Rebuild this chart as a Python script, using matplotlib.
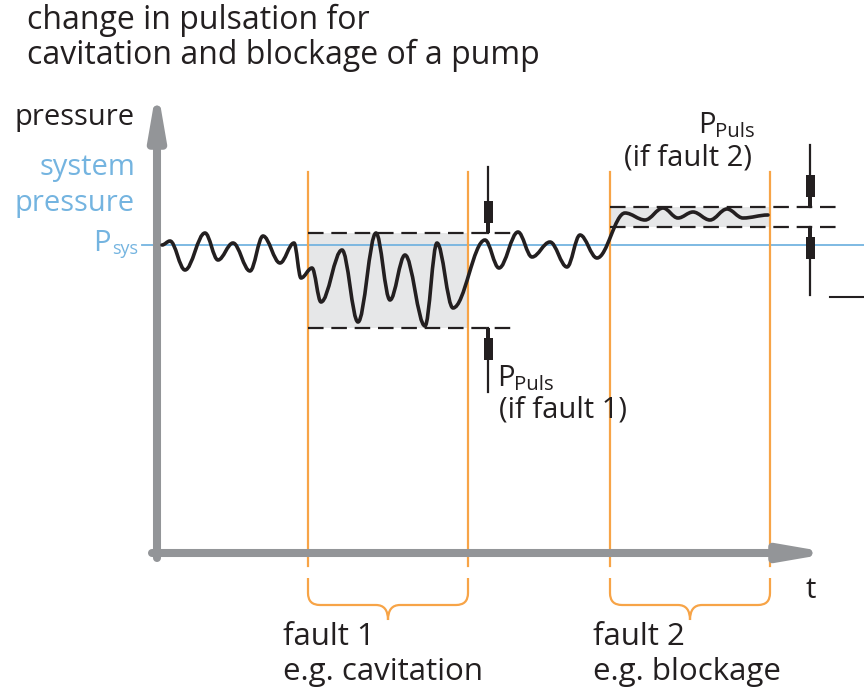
import matplotlib
matplotlib.use("Agg")
import matplotlib.pyplot as plt
from matplotlib.path import Path
from matplotlib.patches import PathPatch, Rectangle, Polygon

# ---------------- data (pixel-space schematic) ----------------
wave_x = [162, 170, 185, 205, 218, 233, 250, 263, 280, 294, 301, 312, 321,
          342, 358, 376, 390, 405, 425, 437, 453, 485, 499, 518, 532, 550,
          567, 580, 597, 625, 645, 663, 678, 693, 710, 727, 743, 768]
wave_y = [245, 241, 270, 233, 260, 243, 271, 236, 263, 243, 278, 268, 302,
          250, 322, 233, 300, 255, 326, 243, 308, 240, 268, 232, 257, 242,
          267, 235, 258, 213, 220, 208, 218, 212, 220, 209, 218, 215]
fault_x = [308, 468, 610, 770]          # orange boundaries
p_sys = 245
band1 = (233, 328)                      # fault 1 pulsation band
band2 = (207, 227)                      # fault 2 pulsation band

ORANGE = "#F7A447"
BLUE = "#74B4E0"
GRAY = "#939598"
FILL = "#E6E7E8"
INK = "#231F20"
FONT = "Open Sans"

fig = plt.figure(figsize=(8.64, 6.90), dpi=100)
ax = fig.add_axes([0, 0, 1, 1])
ax.set_xlim(0, 864)
ax.set_ylim(690, 0)
ax.axis("off")

# gray bands
ax.add_patch(Rectangle((fault_x[0], band1[0]), fault_x[1] - fault_x[0],
                       band1[1] - band1[0], color=FILL, zorder=1, lw=0))
ax.add_patch(Rectangle((fault_x[2], band2[0]), fault_x[3] - fault_x[2],
                       band2[1] - band2[0], color=FILL, zorder=1, lw=0))

# system pressure line
ax.plot([142, 864], [p_sys, p_sys], color=BLUE, lw=1.3, zorder=2)

# orange fault lines
for x in fault_x:
    ax.plot([x, x], [172, 566], color=ORANGE, lw=1.6, zorder=2)

# braces
def brace(x0, x1, ytop=578, ymid=605, ytip=620, r=12):
    xc = (x0 + x1) / 2
    verts = [(x0, ytop), (x0, ymid - r), (x0, ymid), (x0 + r, ymid),
             (xc - r, ymid), (xc, ymid), (xc, ytip),
             (xc, ytip), (xc, ymid), (xc + r, ymid),
             (x1 - r, ymid), (x1, ymid), (x1, ymid - r), (x1, ytop)]
    codes = [Path.MOVETO, Path.LINETO, Path.CURVE3, Path.CURVE3,
             Path.LINETO, Path.CURVE3, Path.CURVE3,
             Path.MOVETO, Path.CURVE3, Path.CURVE3,
             Path.LINETO, Path.CURVE3, Path.CURVE3, Path.LINETO]
    ax.add_patch(PathPatch(Path(verts, codes), fill=False, ec=ORANGE,
                           lw=1.6, zorder=2))

brace(fault_x[0], fault_x[1])
brace(fault_x[2], fault_x[3])

# dashed band limits
dash = dict(color=INK, lw=1.6, dashes=(7, 3.5), zorder=4)
ax.plot([308, 515], [band1[0]] * 2, **dash)
ax.plot([308, 515], [band1[1]] * 2, **dash)
ax.plot([610, 837], [band2[0]] * 2, **dash)
ax.plot([610, 837], [band2[1]] * 2, **dash)

# waveform: smooth curve through extrema (horizontal tangents)
verts = [(wave_x[0], wave_y[0])]
codes = [Path.MOVETO]
for i in range(1, len(wave_x)):
    x0, y0 = wave_x[i - 1], wave_y[i - 1]
    x1, y1 = wave_x[i], wave_y[i]
    d = (x1 - x0) * 0.36
    verts += [(x0 + d, y0), (x1 - d, y1), (x1, y1)]
    codes += [Path.CURVE4] * 3
ax.add_patch(PathPatch(Path(verts, codes), fill=False, ec=INK, lw=2.6,
                       capstyle="round", joinstyle="round", zorder=5))

# measurement arrows (block-style heads)
def marrow(x, ytail, ytip):
    s = 1 if ytip > ytail else -1
    ax.plot([x, x], [ytail, ytip], color=INK, lw=1.6, zorder=6)
    blk_top = ytip - s * 32
    blk_bot = ytip - s * 10
    ax.add_patch(Polygon([(x - 4.5, blk_top), (x + 4.5, blk_top),
                          (x + 4.5, blk_bot), (x - 4.5, blk_bot)],
                         closed=True, color=INK, lw=0, zorder=6))
    ax.add_patch(Polygon([(x - 2, blk_bot), (x + 2, blk_bot),
                          (x + 2, ytip), (x - 2, ytip)],
                         closed=True, color=INK, lw=0, zorder=6))

marrow(488, 167, band1[0])
marrow(488, 392, band1[1])
marrow(810, 145, band2[0])
marrow(810, 295, band2[1])
ax.plot([830, 864], [297, 297], color=INK, lw=1.5)

# axes arrows
ax.annotate("", xy=(157, 86), xytext=(157, 558),
            arrowprops=dict(arrowstyle="-|>,head_length=2.6,head_width=0.45",
                            color=GRAY, lw=5.8, shrinkA=0, shrinkB=0))
ax.annotate("", xy=(832, 553), xytext=(152, 553),
            arrowprops=dict(arrowstyle="-|>,head_length=2.6,head_width=0.45",
                            color=GRAY, lw=5.8, shrinkA=0, shrinkB=0))

# texts
fs = 21
tk = dict(family=FONT, fontsize=fs, color=INK)
sub = fs * 0.7
ax.text(27, 20, "change in pulsation for", va="center", ha="left",
        family=FONT, fontsize=23, color=INK)
ax.text(27, 55, "cavitation and blockage of a pump", va="center", ha="left",
        family=FONT, fontsize=23, color=INK)
ax.text(135, 118, "pressure", va="center", ha="right", **tk)
ax.text(135, 168, "system", va="center", ha="right", family=FONT, fontsize=fs, color=BLUE)
ax.text(135, 203, "pressure", va="center", ha="right", family=FONT, fontsize=fs, color=BLUE)
ax.text(138, 254, "sys", va="baseline", ha="right", family=FONT, fontsize=13, color=BLUE)
ax.text(111, 251, "P", va="baseline", ha="right", family=FONT, fontsize=fs, color=BLUE)

ax.text(497, 386, "P", va="baseline", ha="left", **tk)
ax.text(514, 390, "Puls", va="baseline", ha="left", family=FONT, fontsize=sub, color=INK)
ax.text(499, 410, "(if fault 1)", va="center", ha="left", **tk)

ax.text(698, 133, "P", va="baseline", ha="left", **tk)
ax.text(715, 137, "Puls", va="baseline", ha="left", family=FONT, fontsize=sub, color=INK)
ax.text(624, 158, "(if fault 2)", va="center", ha="left", **tk)

bfs = 22.5
bk = dict(family=FONT, fontsize=bfs, color=INK)
ax.text(806, 590, "t", va="center", ha="left", **tk)
ax.text(283, 637, "fault 1", va="center", ha="left", **bk)
ax.text(283, 672, "e.g. cavitation", va="center", ha="left", **bk)
ax.text(593, 637, "fault 2", va="center", ha="left", **bk)
ax.text(593, 672, "e.g. blockage", va="center", ha="left", **bk)

fig.savefig("out.png", dpi=100, facecolor="white")
